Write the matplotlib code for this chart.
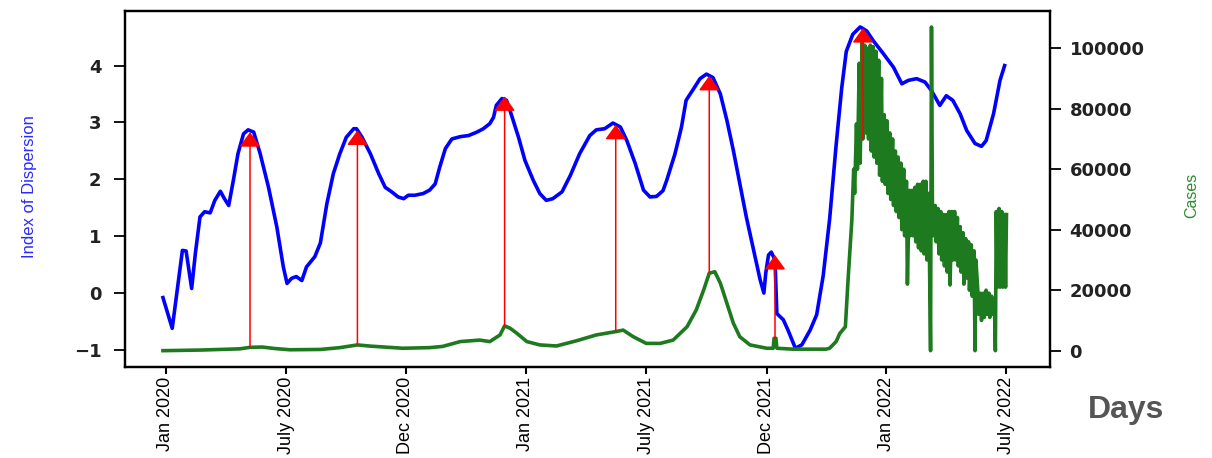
import matplotlib
matplotlib.use("Agg")
import matplotlib.pyplot as plt
import numpy as np


# index of dispersion (left axis), sampled by day since start of series
disp_days = [0, 10, 21, 25, 31, 35, 40, 45, 51, 56, 62, 66, 71, 76, 81, 87, 92, 98, 105, 114,
	123, 130, 134, 139, 144, 150, 155, 164, 170, 177, 184, 191, 198, 206, 209, 215, 224, 233,
	240, 247, 254, 260, 265, 272, 281, 288, 294, 299, 305, 312, 321, 330, 339, 346, 353, 357,
	360, 366, 371, 376, 384, 391, 400, 407, 414, 421, 431, 440, 450, 461, 468, 477, 486, 494,
	501, 510, 519, 526, 533, 540, 544, 553, 560, 565, 573, 580, 587, 594, 602, 609, 616, 623,
	630, 638, 645, 649, 651, 654, 657, 661, 663, 670, 675, 683, 690, 699, 706, 713, 720, 727,
	733, 738, 745, 753, 760, 767, 778, 789, 798, 805, 814, 823, 830, 839, 846, 853, 861, 868,
	877, 884, 889, 897, 904, 909]
dispersion = [-0.08, -0.62, 0.75, 0.74, 0.08, 0.70, 1.34, 1.43, 1.41, 1.63, 1.79, 1.67, 1.54,
	1.98, 2.45, 2.80, 2.87, 2.83, 2.45, 1.86, 1.16, 0.46, 0.17, 0.26, 0.29, 0.22, 0.46, 0.64,
	0.88, 1.57, 2.10, 2.45, 2.74, 2.89, 2.89, 2.74, 2.45, 2.10, 1.86, 1.78, 1.69, 1.66, 1.72,
	1.72, 1.75, 1.81, 1.92, 2.22, 2.54, 2.71, 2.75, 2.77, 2.83, 2.89, 2.98, 3.09, 3.30, 3.42,
	3.39, 3.15, 2.74, 2.33, 1.98, 1.75, 1.63, 1.66, 1.78, 2.07, 2.45, 2.77, 2.87, 2.89, 2.99,
	2.92, 2.68, 2.28, 1.81, 1.69, 1.70, 1.80, 1.98, 2.45, 2.92, 3.39, 3.59, 3.77, 3.85, 3.79,
	3.50, 3.04, 2.51, 1.92, 1.34, 0.75, 0.23, 0.00, 0.35, 0.67, 0.72, 0.58, -0.36, -0.47, -0.65,
	-0.97, -0.91, -0.65, -0.38, 0.30, 1.30, 2.60, 3.60, 4.25, 4.55, 4.68, 4.61, 4.44, 4.21, 3.97,
	3.68, 3.74, 3.77, 3.71, 3.56, 3.30, 3.47, 3.39, 3.15, 2.86, 2.63, 2.58, 2.68, 3.15, 3.74, 4.00]

# daily cases (right axis); 2022 reports swing hard from day to day
case_days = [0, 40, 83, 94, 107, 121, 137, 170, 191, 210, 224, 259, 288, 302, 321, 342, 353,
	364, 369, 375, 382, 393, 407, 425, 447, 468, 489, 497, 508, 522, 537, 551, 566, 576, 584,
	590, 596, 602, 609, 616, 623, 634, 652, 659, 660, 662, 663, 680, 716, 720, 727, 731, 737,
	740, 744, 746, 747, 749, 750, 752, 753, 755, 756, 758, 759, 761, 762, 764, 765, 767, 768,
	770, 771, 773, 774, 776, 777, 779, 780, 782, 783, 785, 786, 788, 789, 791, 792, 794, 795,
	797, 798, 800, 801, 803, 804, 806, 807, 809, 810, 812, 813, 815, 816, 818, 819, 821, 822,
	824, 825, 827, 829, 830, 831, 832, 834, 835, 837, 838, 840, 841, 843, 844, 846, 847, 849,
	850, 852, 853, 855, 856, 858, 859, 861, 862, 864, 865, 867, 868, 870, 871, 873, 874, 876,
	877, 878, 880, 881, 883, 884, 886, 887, 889, 890, 892, 893, 895, 896, 898, 899, 900, 901,
	903, 904, 906, 907, 909, 910, 911]
cases = [0, 200, 600, 1100, 1200, 700, 300, 400, 1000, 1900, 1500, 800, 1000, 1400, 3000,
	3500, 3000, 5200, 8200, 7400, 5800, 3000, 1900, 1550, 3300, 5200, 6300, 6800, 4600, 2400,
	2400, 3500, 7900, 13500, 20100, 25600, 26100, 22300, 15700, 9100, 4600, 1900, 800, 800,
	4100, 4100, 800, 500, 500, 800, 3000, 5700, 7900,
	23900, 43200, 60000, 52000, 75000, 60000, 95000, 62000, 102000, 70000, 101000, 72000,
	100000, 70000, 101000, 66000, 100500, 64000, 99000, 62000, 96000, 58000, 90000, 56000,
	78000, 55000, 76000, 52000, 72000, 50000, 70000, 48000, 66000, 46000, 64000, 44000,
	62000, 40000, 60000, 38000, 56000, 22000, 53000, 38000, 53000, 38000, 54000, 36000,
	55000, 34000, 55000, 33000, 56000, 32000, 56000, 30000, 52000, 0, 107000, 48000, 38000,
	48000, 36000, 47000, 32000, 46000, 30000, 45000, 28000, 45000, 26000, 46000, 21700,
	46000, 30000, 46000, 30000, 44000, 28000, 41000, 26000, 39000, 22000, 37000, 24000,
	36000, 20000, 35000, 18000, 33000, 0, 30000, 20000, 12000, 19000, 10000, 19000, 11000,
	20000, 12000, 19000, 11000, 18000, 12000, 17000, 0, 46000, 21000, 47000, 21000, 46000,
	21000, 45000, 21000, 45000]

# local maxima of the index, marked with arrows from the case curve
peak_days = [94, 210, 369, 489, 590, 661, 756]
peak_values = [2.83, 2.86, 3.46, 2.96, 3.82, 0.67, 4.66]

tick_days = [3, 133, 262, 392, 522, 652, 781, 911]
tick_labels = ["Jan 2020", "July 2020", "Dec 2020", "Jan 2021", "July 2021", "Dec 2021",
	"Jan 2022", "July 2022"]

SANS = ["Liberation Sans", "DejaVu Sans"]


def main():
	fig = plt.figure(figsize=(12.12, 4.58), dpi=100)
	ax = fig.add_axes([125 / 1212, 91 / 458, 925 / 1212, 356 / 458])
	ax2 = ax.twinx()

	ax.plot(disp_days, dispersion, color="blue", lw=2.6)
	ax2.plot(case_days, cases, color="#1e7a1e", lw=2.6)

	stem_cases = np.interp(peak_days, case_days, cases)
	for d, v, c in zip(peak_days, peak_values, stem_cases):
		ax2.annotate("", xy=(d, v), xycoords=ax.transData,
			xytext=(d, c), textcoords=ax2.transData,
			arrowprops=dict(arrowstyle="-|>,head_length=0.9,head_width=0.65",
				color="red", lw=1.1, shrinkA=0, shrinkB=0))

	ax.set_xlim(-41, 958)
	ax.set_ylim(-1.30, 4.96)
	ax2.set_ylim(-5400, 112300)

	ax.set_xticks(tick_days)
	ax.set_xticklabels(tick_labels, rotation=90, family=SANS, fontsize=13)
	ax.set_yticks(range(-1, 5))
	ax2.set_yticks(range(0, 100001, 20000))
	for lbl in ax.get_yticklabels() + ax2.get_yticklabels():
		lbl.set_fontweight("bold")
		lbl.set_fontsize(13)
		lbl.set_color("#222222")

	ax.tick_params(axis="x", length=5, width=1.5, pad=2)
	ax.tick_params(axis="y", length=8, width=1.3, pad=9)
	ax2.tick_params(axis="y", length=8, width=1.3, pad=6)
	for a in (ax, ax2):
		for sp in a.spines.values():
			sp.set_linewidth(1.6)

	fig.text(30 / 1212, 1 - 187 / 458, "Index of Dispersion", rotation=90, color="#2a2aff",
		family=SANS, fontsize=12, ha="center", va="center")
	fig.text(1192 / 1212, 1 - 195 / 458, "Cases", rotation=90, color="#2e8b2e",
		family=SANS, fontsize=11.5, ha="center", va="center")
	fig.text(1126 / 1212, 1 - 410 / 458, "Days", color="#555555", family=SANS,
		fontsize=23, fontweight="bold", ha="center", va="center")

	fig.savefig("out.png", dpi=100)


if __name__ == "__main__":
	main()
